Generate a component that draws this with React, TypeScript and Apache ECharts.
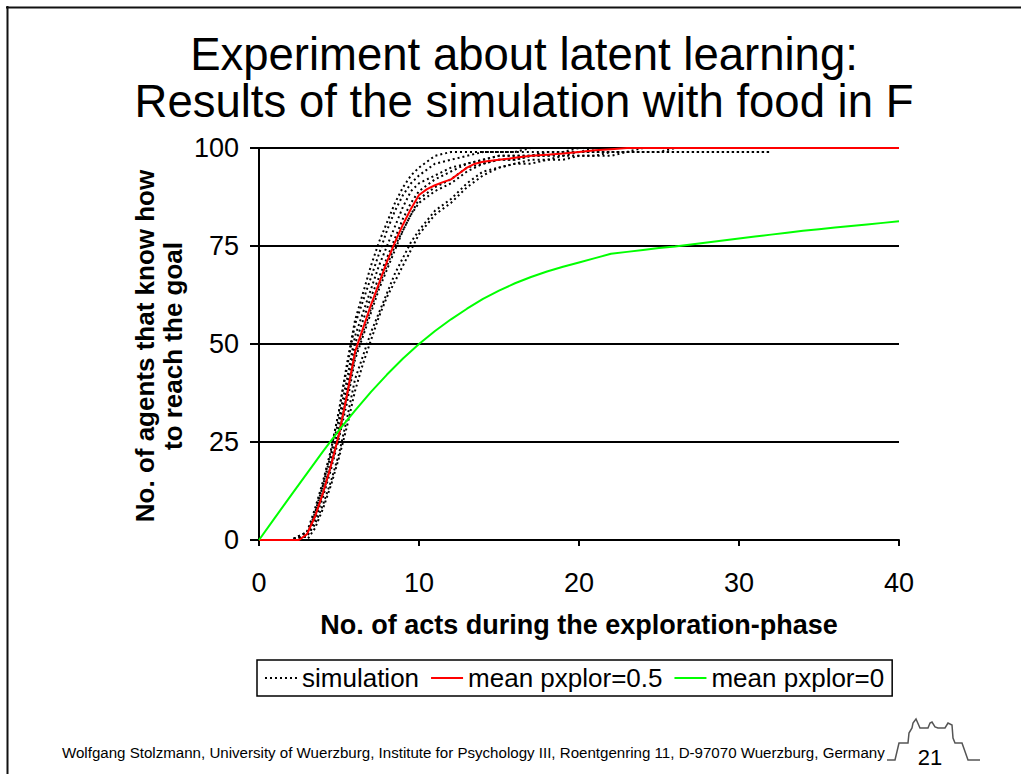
import React, { useEffect, useRef } from "react";
import * as echarts from "echarts";

// ---- data ----
const titleLines = ["Experiment about latent learning:", "Results of the simulation with food in F"];
const xTitle = "No. of acts during the exploration-phase";
const yTitle = "No. of agents that know how\nto reach the goal";
const footerText =
  "Wolfgang Stolzmann, University of Wuerzburg, Institute for Psychology III, Roentgenring 11, D-97070 Wuerzburg, Germany";
const pageNumber = "21";

const legendNames = ["simulation", "mean pxplor=0.5", "mean pxplor=0"];

// x positions (acts) for the individual simulation runs
const simX = [0, 1, 2, 3, 3.5, 4, 4.5, 5, 5.5, 6, 6.5, 7, 7.5, 8, 8.5, 9, 9.5, 10, 11, 12, 13, 14, 15, 16, 17, 18, 19, 20, 21, 22, 23, 24, 25, 26, 27, 28, 29, 30, 31, 32];
const simA = [0, 0, 0, 2, 7, 14, 23, 33, 45, 56, 63, 70, 76, 81, 86, 90, 93, 95, 98, 99, 99, 99, 99, 99, 100, 100, 100, 100, 100, 100, 100, 100, 100, 100, 100, 100, 100, 100, 100, 100];
const simB = [0, 0, 0, 2, 8, 15, 23, 33, 44, 55, 61, 67, 73, 79, 84, 88, 91, 93, 96, 97, 98, 99, 99, 99, 99, 99, 99, 100, 100, 100, 100, 100, 100, 100, 100, 100, 100, 100, 100, 100];
const simC = [0, 0, 0, 1, 6, 12, 20, 29, 39, 50, 56, 62, 67, 72, 77, 82, 86, 89, 92, 94, 96, 97, 98, 98, 98, 99, 99, 99, 99, 99, 99, 99, 99, 99, 99, 99, 99, 99, 99, 99];
const simD = [0, 0, 0, 1, 5, 11, 18, 26, 35, 46, 52, 58, 64, 69, 74, 79, 83, 87, 90, 92, 95, 96, 97, 97, 98, 98, 98, 99, 99, 99, 99, 99, 99, 100, 100, 100, 100, 100, 100, 100];
const simE = [0, 0, 0, 2, 6, 12, 19, 27, 37, 47, 53, 59, 65, 70, 75, 79, 83, 86, 89, 91, 94, 96, 97, 97, 98, 98, 99, 99, 99, 99, 99, 100, 100, 100, 100, 100, 100, 100, 100, 100];
const simF = [0, 0, 0, 1, 4, 9, 15, 22, 31, 41, 47, 53, 58, 63, 68, 72, 76, 79, 84, 87, 91, 94, 95, 96, 96, 97, 97, 98, 98, 98, 99, 99, 99, 99, 99, 99, 99, 99, 99, 99];
const simG = [0, 0, 0, 0, 3, 8, 14, 21, 29, 38, 45, 51, 57, 62, 66, 70, 74, 78, 83, 86, 90, 93, 95, 96, 97, 97, 98, 98, 98, 99, 99, 99, 99, 99, 99, 99, 99, 99, 99, 99];
const simH = [0, 0, 0, 1, 7, 14, 22, 31, 41, 52, 58, 64, 70, 75, 80, 85, 89, 91, 93, 95, 96, 97, 98, 98, 98, 99, 99, 99, 100, 100, 100, 100, 100, 100, 100, 100, 100, 100, 100, 100];
const simRuns = [simA, simB, simC, simD, simE, simF, simG, simH];

// mean pxplor=0.5 (red)
const redX = [0, 1, 2, 2.5, 3, 3.5, 4, 4.5, 5, 5.5, 6, 6.5, 7, 7.5, 8, 8.5, 9, 9.5, 10, 10.5, 11, 11.5, 12, 12.5, 13, 13.5, 14, 15, 16, 17, 18, 19, 20, 21, 22, 23, 25, 30, 35, 40];
const redY = [0, 0, 0, 0, 1.5, 6, 12, 19, 27, 37, 48, 54, 60, 65.5, 71, 76, 80.5, 84.5, 88, 89.5, 90.5, 91.3, 92, 93.5, 95, 96, 96.5, 97, 97.5, 98, 98.3, 98.6, 99, 99.4, 99.7, 100, 100, 100, 100, 100];

// mean pxplor=0 (green)
const greenX = [0, 1, 2, 3, 4, 5, 6, 7, 8, 9, 10, 11, 12, 13, 14, 15, 16, 17, 18, 19, 20, 21, 22, 23, 24, 25, 26, 27, 28, 29, 30, 31, 32, 33, 34, 35, 36, 37, 38, 39, 40];
const greenY = [0, 5.7, 11.4, 17, 22.6, 28, 33, 37.8, 42.2, 46.3, 50, 53.3, 56.3, 59, 61.5, 63.6, 65.5, 67.1, 68.5, 69.7, 70.8, 71.9, 73, 73.5, 74, 74.5, 74.9, 75.4, 75.9, 76.4, 76.9, 77.4, 77.9, 78.4, 78.9, 79.3, 79.7, 80.1, 80.5, 80.9, 81.3];

const xTicks = { min: 0, max: 40, interval: 10 };
const yTicks = { min: 0, max: 100, interval: 25 };

// logo outline points
const logoPts = [
  [887, 760], [895, 760], [899, 743], [908, 743], [909, 733], [912, 728], [913, 723], [916, 719], [920, 728],
  [928, 728], [930, 723], [932, 722], [935, 727], [938, 728], [945, 728], [948, 723], [952, 725], [953, 738],
  [955, 743], [962, 743], [968, 760], [980, 760],
];

const FONT = '"Liberation Sans", Arial, sans-serif';

export default function App() {
  const ref = useRef<HTMLDivElement>(null);
  useEffect(() => {
    if (!ref.current) return;
    const chart = echarts.init(ref.current, null, { renderer: "svg" });
    const zip = (xs: number[], ys: number[]) => xs.map((x, i) => [x, ys[i]]);
    const simSeries = simRuns.map((run) => ({
      name: legendNames[0],
      type: "line",
      data: zip(simX, run),
      symbol: "none",
      color: "#000",
      lineStyle: { color: "#000", width: 2, type: [2, 3] },
      z: 2,
    }));
    chart.setOption({
      animation: false,
      backgroundColor: "#fff",
      textStyle: { fontFamily: FONT },
      grid: { left: 259, top: 148, width: 640, height: 392, containLabel: false },
      legend: {
        data: legendNames,
        left: 257,
        top: 660,
        orient: "horizontal",
        borderColor: "#000",
        borderWidth: 1.5,
        padding: [5, 8, 5, 7],
        itemGap: 11,
        itemWidth: 32,
        itemHeight: 14,
        selectedMode: false,
        itemStyle: { opacity: 0 },
        textStyle: { fontSize: 26, color: "#000", fontFamily: FONT },
      },
      xAxis: {
        type: "value",
        ...xTicks,
        name: xTitle,
        nameLocation: "middle",
        nameGap: 71,
        nameTextStyle: { fontSize: 27, fontWeight: "bold", color: "#000", fontFamily: FONT },
        axisLine: { show: true, onZero: false, lineStyle: { color: "#000", width: 2 } },
        axisTick: { show: true, length: 6, lineStyle: { color: "#000", width: 2 } },
        axisLabel: { fontSize: 27, color: "#000", margin: 29, fontFamily: FONT },
        splitLine: { show: false },
      },
      yAxis: {
        type: "value",
        ...yTicks,
        axisLine: { show: true, lineStyle: { color: "#000", width: 2 } },
        axisTick: { show: true, length: 9, lineStyle: { color: "#000", width: 2 } },
        axisLabel: { fontSize: 27, color: "#000", margin: 20, fontFamily: FONT },
        splitLine: { show: true, lineStyle: { color: "#000", width: 2 } },
      },
      series: [
        ...simSeries,
        {
          name: legendNames[1],
          type: "line",
          data: zip(redX, redY),
          symbol: "none",
          color: "#ff0000",
          lineStyle: { color: "#ff0000", width: 2 },
          z: 3,
        },
        {
          name: legendNames[2],
          type: "line",
          data: zip(greenX, greenY),
          symbol: "none",
          color: "#00ff00",
          lineStyle: { color: "#00ff00", width: 2 },
          z: 3,
        },
      ],
      graphic: [
        { type: "line", shape: { x1: 6, y1: 7.5, x2: 1021, y2: 7.5 }, style: { stroke: "#111", lineWidth: 2 } },
        { type: "line", shape: { x1: 7.5, y1: 6, x2: 7.5, y2: 774 }, style: { stroke: "#111", lineWidth: 2 } },
        {
          type: "text",
          x: 524,
          y: 31,
          style: {
            text: titleLines.join("\n"),
            font: `45.5px ${FONT}`,
            fill: "#000",
            align: "center",
            verticalAlign: "top",
            lineHeight: 47,
          },
        },
        {
          type: "text",
          x: 158.5,
          y: 346,
          rotation: Math.PI / 2,
          style: {
            text: yTitle,
            font: `bold 26px ${FONT}`,
            fill: "#000",
            align: "center",
            verticalAlign: "middle",
            lineHeight: 28,
          },
        },
        {
          type: "text",
          x: 62,
          y: 752,
          style: { text: footerText, font: `15.1px ${FONT}`, fill: "#000", align: "left", verticalAlign: "middle" },
        },
        {
          type: "text",
          x: 930,
          y: 757,
          style: { text: pageNumber, font: `22px ${FONT}`, fill: "#000", align: "center", verticalAlign: "middle" },
        },
        {
          type: "polyline",
          shape: { points: logoPts },
          style: { stroke: "#555", lineWidth: 1.5, fill: null },
        },
      ],
    });
    return () => chart.dispose();
  }, []);
  return (
    <div
      ref={ref}
      style={{ position: "fixed", left: 0, top: 0, width: 1021, height: 774, background: "#fff" }}
    />
  );
}
